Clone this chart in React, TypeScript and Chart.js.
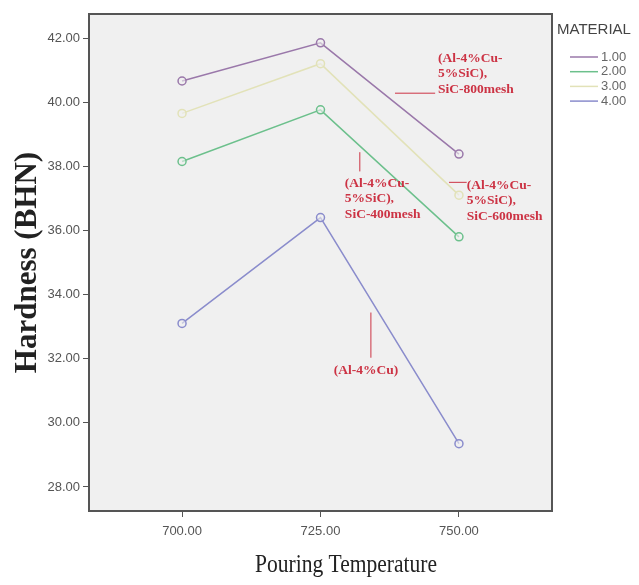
import React, { useEffect, useRef } from "react";
import { Chart, registerables } from "chart.js";
Chart.register(...registerables);

const temperatures = [700, 725, 750];
const material1 = [40.66, 41.85, 38.38];
const material2 = [38.15, 39.76, 35.8];
const material3 = [39.65, 41.2, 37.1];
const material4 = [33.1, 36.4, 29.35];
const materialLabels = ["1.00", "2.00", "3.00", "4.00"];
const yTicks = [28, 30, 32, 34, 36, 38, 40, 42];
const xTicks = [700, 725, 750];

const annotationTexts = [
  ["(Al-4%Cu-", "5%SiC),", "SiC-800mesh"],
  ["(Al-4%Cu-", "5%SiC),", "SiC-400mesh"],
  ["(Al-4%Cu-", "5%SiC),", "SiC-600mesh"],
  ["(Al-4%Cu)"],
];
// anchor of first text line (data units)
const annotationX = [746.2, 729.4, 751.4, 733.2];
const annotationY = [41.37, 37.47, 37.41, 31.63];
const annotationAlign = ["left", "left", "left", "center"];
// leader lines: x1, y1, x2, y2 in data units
const leaderLines = [
  [738.45, 40.28, 745.7, 40.28],
  [732.1, 38.44, 732.1, 37.84],
  [748.2, 37.5, 751.4, 37.5],
  [734.1, 33.44, 734.1, 32.03],
];

const colors = ["#9a78aa", "#6cc08c", "#e2e2b8", "#8a8ccc"];
const RED = "#cc3344";

const plotPlugin = {
  id: "plotDecor",
  beforeDraw(chart: any) {
    const { ctx, chartArea: a } = chart;
    ctx.save();
    ctx.fillStyle = "#ffffff";
    ctx.fillRect(0, 0, chart.width, chart.height);
    ctx.fillStyle = "#f0f0f0";
    ctx.fillRect(a.left, a.top, a.right - a.left, a.bottom - a.top);
    ctx.restore();
  },
  afterDatasetsDraw(chart: any) {
    const { ctx } = chart;
    const xs = chart.scales.x;
    const ys = chart.scales.y;
    ctx.save();
    ctx.strokeStyle = RED;
    ctx.lineWidth = 1;
    leaderLines.forEach((l) => {
      ctx.beginPath();
      ctx.moveTo(xs.getPixelForValue(l[0]), ys.getPixelForValue(l[1]));
      ctx.lineTo(xs.getPixelForValue(l[2]), ys.getPixelForValue(l[3]));
      ctx.stroke();
    });
    ctx.fillStyle = RED;
    ctx.font = "bold 13.5px 'Liberation Serif', serif";
    ctx.textBaseline = "middle";
    annotationTexts.forEach((lines, i) => {
      const px = xs.getPixelForValue(annotationX[i]);
      const py = ys.getPixelForValue(annotationY[i]);
      ctx.textAlign = annotationAlign[i] as CanvasTextAlign;
      lines.forEach((t, j) => ctx.fillText(t, px, py + j * 15.5));
    });
    ctx.restore();
  },
  afterDraw(chart: any) {
    const { ctx, chartArea: a } = chart;
    ctx.save();
    ctx.strokeStyle = "#555555";
    ctx.lineWidth = 2;
    ctx.strokeRect(a.left, a.top, a.right - a.left, a.bottom - a.top);
    // x axis title (slightly condensed serif, like the reference)
    ctx.fillStyle = "#222222";
    ctx.font = "25px 'Liberation Serif', serif";
    ctx.textAlign = "center";
    ctx.textBaseline = "middle";
    const title = "Pouring Temperature";
    const w = ctx.measureText(title).width;
    const sx = 182 / w;
    ctx.save();
    ctx.translate(346, 565);
    ctx.scale(sx, 1.05);
    ctx.fillText(title, 0, 0);
    ctx.restore();
    // legend
    ctx.fillStyle = "#444444";
    ctx.font = "15px 'Liberation Sans', sans-serif";
    ctx.textAlign = "left";
    ctx.textBaseline = "middle";
    ctx.fillText("MATERIAL", 557, 30);
    ctx.font = "13px 'Liberation Sans', sans-serif";
    chart.data.datasets.forEach((ds: any, i: number) => {
      const y = 57 + i * 14.7;
      ctx.strokeStyle = ds.borderColor;
      ctx.lineWidth = 1.5;
      ctx.beginPath();
      ctx.moveTo(570, y);
      ctx.lineTo(598, y);
      ctx.stroke();
      ctx.fillStyle = "#666666";
      ctx.fillText(ds.label, 601, y);
    });
    ctx.restore();
  },
};

export default function App() {
  const ref = useRef<HTMLCanvasElement>(null);
  useEffect(() => {
    const series = [material1, material2, material3, material4];
    const chart = new Chart(ref.current!, {
      type: "line",
      data: {
        datasets: series.map((s, i) => ({
          label: materialLabels[i],
          data: s.map((v, k) => ({ x: temperatures[k], y: v })),
          borderColor: colors[i],
          backgroundColor: "rgba(0,0,0,0)",
          borderWidth: 1.5,
          pointRadius: 4,
          pointBorderWidth: 1.5,
          pointBackgroundColor: "rgba(240,240,240,0.6)",
          pointBorderColor: colors[i],
          tension: 0,
        })),
      },
      options: {
        animation: false,
        responsive: true,
        maintainAspectRatio: false,
        layout: { padding: { left: 0, top: 14, right: 87, bottom: 0 } },
        plugins: { legend: { display: false }, tooltip: { enabled: false } },
        scales: {
          x: {
            type: "linear",
            min: 683.2,
            max: 766.8,
            afterBuildTicks: (s: any) => {
              s.ticks = xTicks.map((v) => ({ value: v }));
            },
            afterFit: (s: any) => {
              s.height = 74;
            },
            grid: { drawOnChartArea: false, drawTicks: true, tickLength: 6, color: "#555555" },
            border: { display: true, color: "#555555", width: 2 },
            ticks: {
              color: "#555555",
              font: { family: "'Liberation Sans', sans-serif", size: 13 },
              padding: 7,
              maxRotation: 0,
              callback: (v: any) => Number(v).toFixed(2),
            },
          },
          y: {
            type: "linear",
            min: 27.25,
            max: 42.75,
            afterBuildTicks: (s: any) => {
              s.ticks = yTicks.map((v) => ({ value: v }));
            },
            afterFit: (s: any) => {
              s.width = 89;
            },
            grid: { drawOnChartArea: false, drawTicks: true, tickLength: 6, color: "#555555" },
            border: { display: true, color: "#555555", width: 2 },
            ticks: {
              color: "#555555",
              font: { family: "'Liberation Sans', sans-serif", size: 13 },
              padding: 3,
              callback: (v: any) => Number(v).toFixed(2),
            },
            title: {
              display: true,
              text: "Hardness (BHN)",
              color: "#222222",
              font: { family: "'Liberation Serif', serif", size: 31, weight: "bold" },
              padding: { top: 9, bottom: 0 },
            },
          },
        },
      },
      plugins: [plotPlugin],
    });
    return () => chart.destroy();
  }, []);
  return (
    <div style={{ position: "fixed", left: 0, top: 0, width: 639, height: 585 }}>
      <canvas ref={ref} />
    </div>
  );
}
